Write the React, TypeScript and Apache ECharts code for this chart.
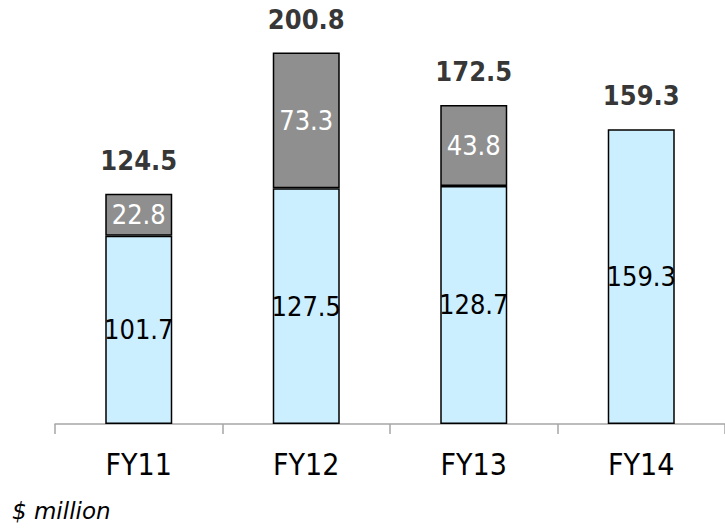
import React, { useEffect, useRef } from "react";
import * as echarts from "echarts";

const categories = ["FY11", "FY12", "FY13", "FY14"];
const baseValues = [101.7, 127.5, 128.7, 159.3];
const extraValues: (number | string)[] = [22.8, 73.3, 43.8, "-"];
const totals = [124.5, 200.8, 172.5, 159.3];
const unitNote = "$ million";

const FONT = "'DejaVu Sans Condensed', 'DejaVu Sans', sans-serif";

export default function App() {
  const ref = useRef<HTMLDivElement>(null);
  useEffect(() => {
    if (!ref.current) return;
    const chart = echarts.init(ref.current, null, { renderer: "svg" });
    chart.setOption({
      animation: false,
      backgroundColor: "#ffffff",
      grid: { left: 55, right: -3, top: 17, bottom: 104, containLabel: false },
      xAxis: {
        type: "category",
        data: categories,
        axisLine: { lineStyle: { color: "#A6A6A6", width: 1.5 } },
        axisTick: { show: true, length: 10, lineStyle: { color: "#A6A6A6", width: 1.5 } },
        axisLabel: { color: "#000", fontFamily: FONT, fontSize: 30, margin: 25 },
      },
      yAxis: {
        type: "value",
        min: 0,
        max: 220,
        show: false,
        splitLine: { show: false },
      },
      series: [
        {
          type: "bar",
          stack: "a",
          data: baseValues,
          barWidth: 67,
          itemStyle: { color: "#CCEFFF", borderColor: "#000", borderWidth: 1.5 },
          label: {
            show: true,
            position: "inside",
            color: "#000",
            fontFamily: FONT,
            fontSize: 27,
            formatter: (p: any) => p.value.toFixed(1),
          },
        },
        {
          type: "bar",
          stack: "a",
          data: extraValues,
          barWidth: 67,
          itemStyle: { color: "#8F8F8F", borderColor: "#000", borderWidth: 1.5 },
          label: {
            show: true,
            position: "inside",
            color: "#fff",
            fontFamily: FONT,
            fontSize: 27,
            formatter: (p: any) => Number(p.value).toFixed(1),
          },
        },
        {
          type: "scatter",
          data: totals,
          symbolSize: 0,
          itemStyle: { color: "transparent" },
          label: {
            show: true,
            position: "top",
            distance: 20,
            color: "#000",
            fontFamily: FONT,
            fontWeight: "bold",
            fontSize: 27,
            formatter: (p: any) => p.value.toFixed(1),
          },
          z: 5,
        },
      ],
      graphic: [
        {
          type: "text",
          left: 12,
          top: 499,
          style: {
            text: unitNote,
            fontFamily: "'DejaVu Sans', sans-serif",
            fontStyle: "italic",
            fontSize: 23,
            fill: "#000",
          },
        },
      ],
    });
    return () => chart.dispose();
  }, []);
  return (
    <div
      ref={ref}
      style={{ position: "absolute", left: 0, top: 0, width: 725, height: 528 }}
    />
  );
}
